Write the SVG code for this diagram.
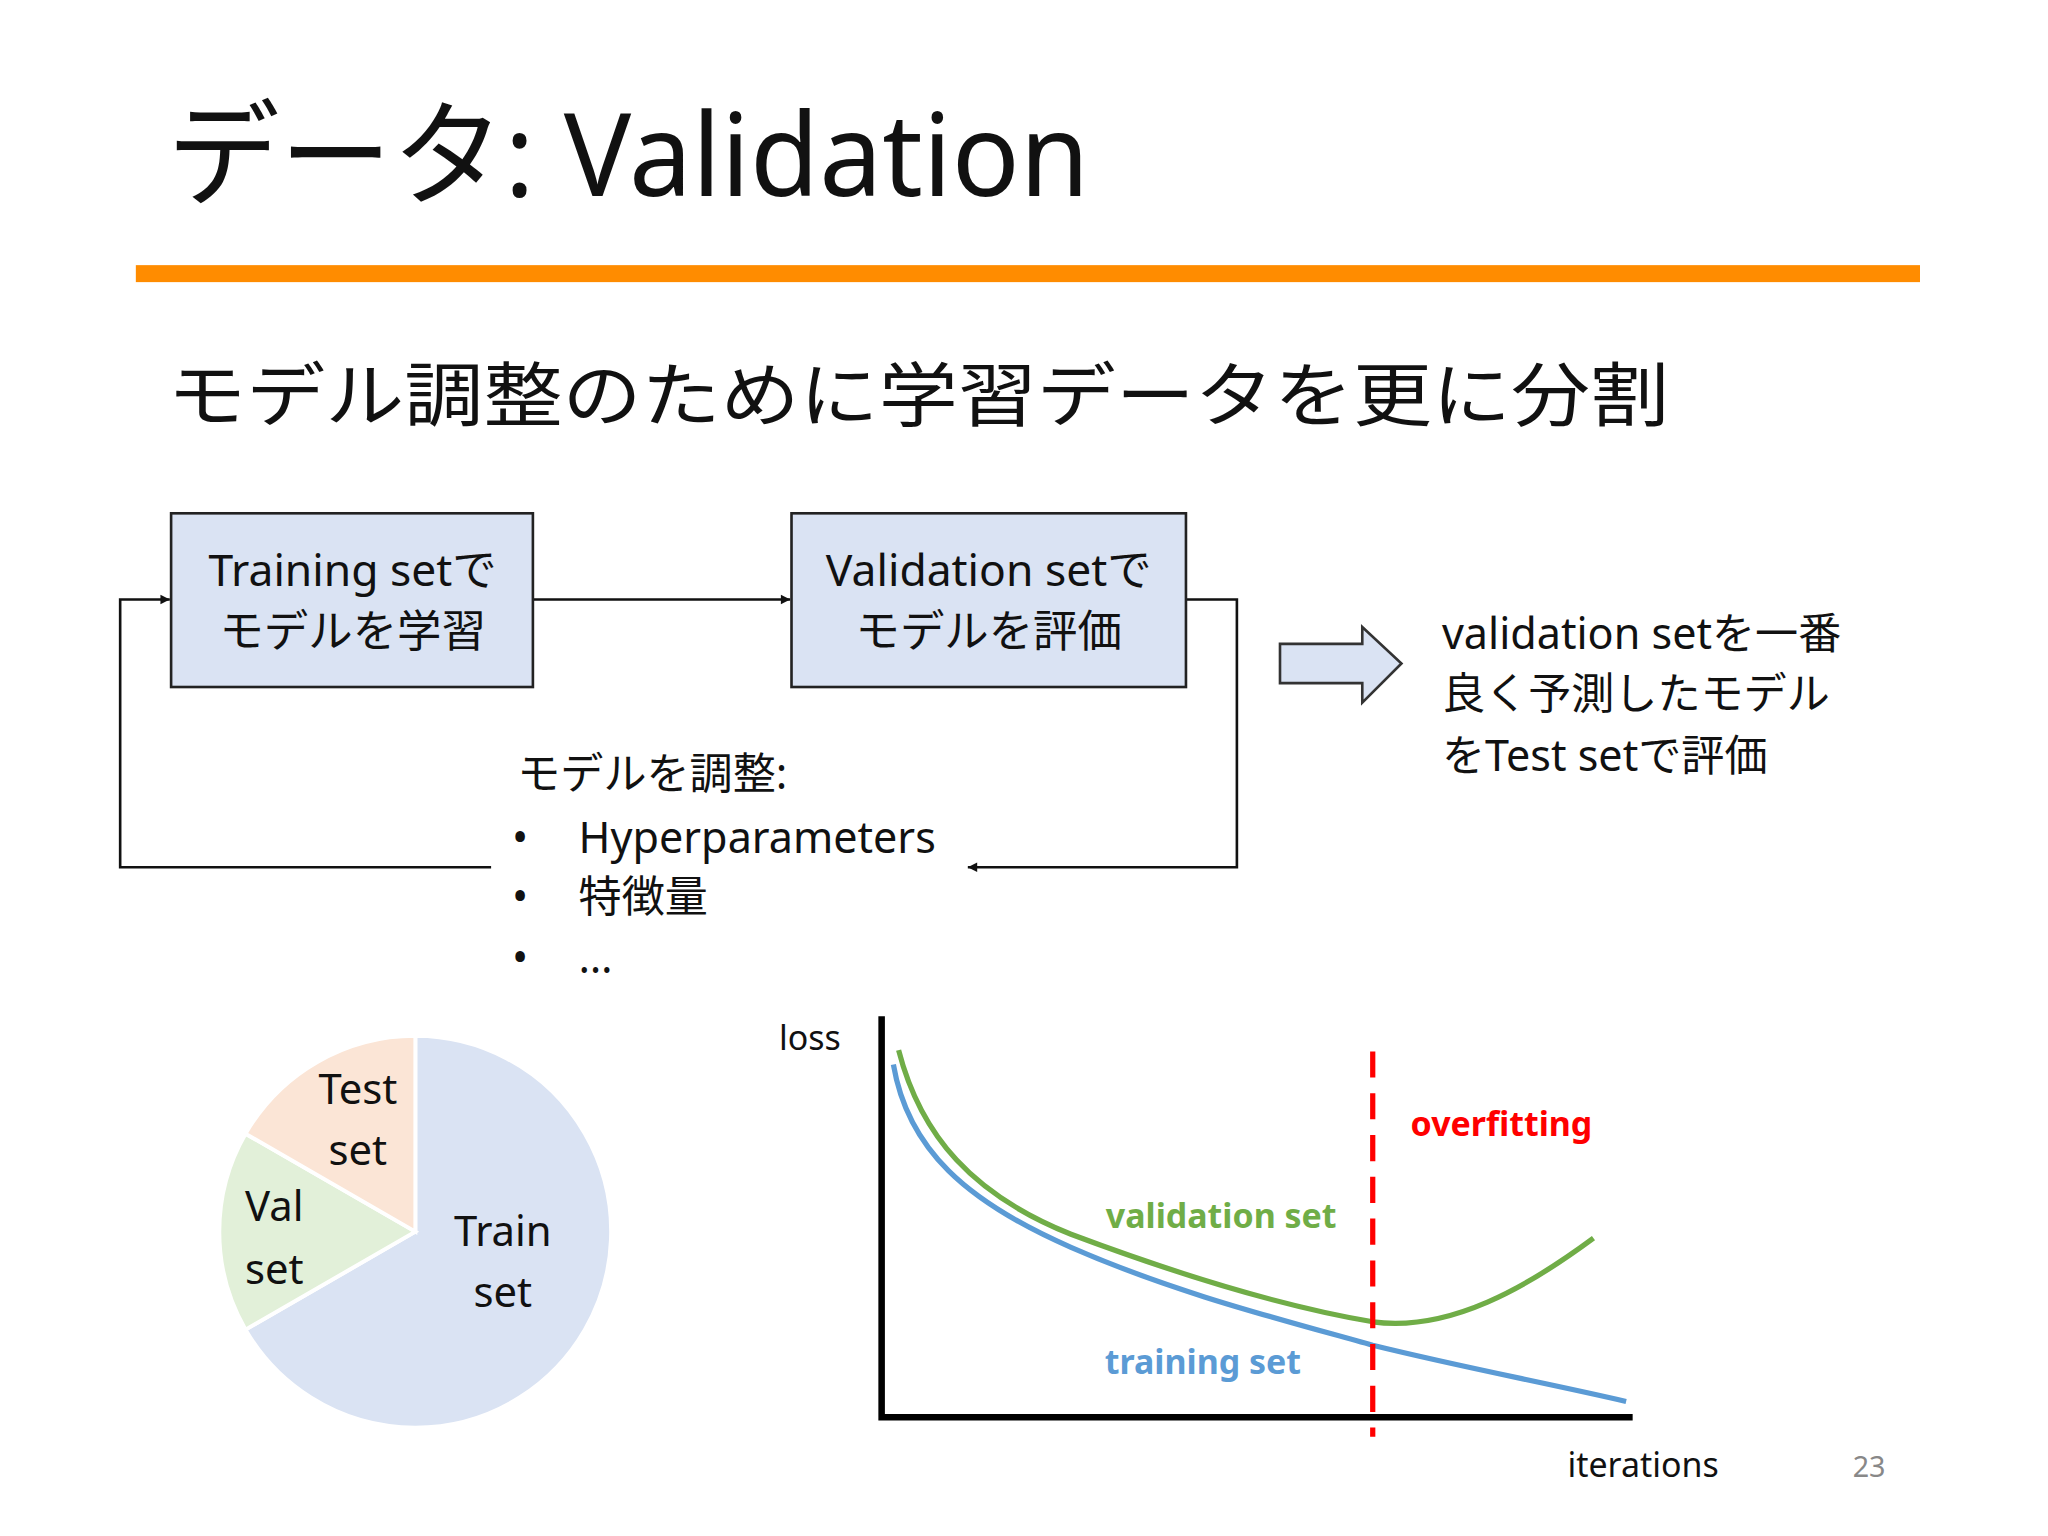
<svg xmlns="http://www.w3.org/2000/svg" width="2048" height="1536" viewBox="0 0 2048 1536">
<style>
text{font-family:"Noto Sans","Noto Sans CJK JP",sans-serif;fill:#111}
.box{fill:#dae3f3;stroke:#222;stroke-width:2}
.ln{fill:none;stroke:#111;stroke-width:2}
.b{font-size:34px;text-anchor:middle}
.m{font-size:33px}
.p{font-size:32px;text-anchor:middle}
.g{font-size:26px;font-weight:bold}
</style>
<defs>
<marker id="ah" viewBox="0 0 10 10" refX="10" refY="5" markerWidth="6" markerHeight="6" orient="auto" markerUnits="userSpaceOnUse" overflow="visible">
<path d="M0,0 L10,5 L0,10 z" fill="#111" transform="scale(1.2) translate(-1.6,-0.8)"/>
</marker>
</defs>
<rect width="2048" height="1536" fill="#fff"/>
<g transform="scale(1.30612)">
<g id="title">
<text x="128" y="150" font-size="88px" textLength="706" lengthAdjust="spacingAndGlyphs">データ: Validation</text>
<rect x="104" y="203" width="1366" height="13" fill="#ff8c00"/>
<text x="128" y="322" font-size="54px" textLength="1150" lengthAdjust="spacingAndGlyphs">モデル調整のために学習データを更に分割</text>
</g>
<g id="connectors">
<path class="ln" d="M408,459 H605" marker-end="url(#ah)"/>
<path class="ln" d="M908,459 H947 V664 H741" marker-end="url(#ah)"/>
<path class="ln" d="M376,664 H92 V459 H130" marker-end="url(#ah)"/>
</g>
<g id="n1">
<rect class="box" x="131" y="393" width="277" height="133"/>
<text class="b" x="270" y="449">Training setで</text>
<text class="b" x="270" y="495">モデルを学習</text>
</g>
<g id="n2">
<rect class="box" x="606" y="393" width="302" height="133"/>
<text class="b" x="757" y="449">Validation setで</text>
<text class="b" x="757" y="495">モデルを評価</text>
</g>
<g id="blockarrow">
<path d="M980,493 H1043 V480 L1073,508 L1043,538 V523 H980 z" fill="#dae3f3" stroke="#333" stroke-width="2"/>
</g>
<g id="result">
<text class="m" x="1104" y="497">validation setを一番</text>
<text class="m" x="1104" y="543">良く予測したモデル</text>
<text class="m" x="1104" y="590">をTest setで評価</text>
</g>
<g id="adjust">
<text class="m" x="396" y="604">モデルを調整:</text>
<text class="m" x="392" y="653">•</text><text class="m" x="443" y="653">Hyperparameters</text>
<text class="m" x="392" y="698">•</text><text class="m" x="443" y="698">特徴量</text>
<text class="m" x="392" y="745">•</text><text class="m" x="443" y="745">…</text>
</g>
<g id="pie">
<path d="M318,943 L318,793 A150,150 0 1 1 188,1018 z" fill="#dae3f3" stroke="#fff" stroke-width="3"/>
<path d="M318,943 L188,1018 A150,150 0 0 1 188,868 z" fill="#e2f0d9" stroke="#fff" stroke-width="3"/>
<path d="M318,943 L188,868 A150,150 0 0 1 318,793 z" fill="#fbe5d6" stroke="#fff" stroke-width="3"/>
<text class="p" x="274" y="845">Test</text><text class="p" x="274" y="892">set</text>
<text class="p" x="210" y="935">Val</text><text class="p" x="210" y="983">set</text>
<text class="p" x="385" y="954">Train</text><text class="p" x="385" y="1001">set</text>
</g>
<g id="chart">
<path d="M675,778 V1085 H1250" fill="none" stroke="#000" stroke-width="5"/>
<text x="620" y="804" font-size="26px" text-anchor="middle">loss</text>
<text x="1258" y="1131" font-size="26px" text-anchor="middle">iterations</text>
<text x="1431" y="1131" font-size="22px" text-anchor="middle" fill="#888" style="fill:#888">23</text>
<path d="M684,815 C695,880 740,920 820,955 C900,990 980,1010 1051,1030 C1120,1047 1180,1058 1245,1073" fill="none" stroke="#5b9bd5" stroke-width="4"/>
<path d="M688,804 C705,870 745,915 820,945 C900,975 980,1000 1051,1012 C1110,1020 1170,985 1220,948" fill="none" stroke="#70ad47" stroke-width="4"/>
<path d="M1051,805 V1100" stroke="#ff0000" stroke-width="4" stroke-dasharray="20,12"/>
<text class="g" x="1080" y="870" style="fill:#ff0000">overfitting</text>
<text class="g" x="935" y="940" text-anchor="middle" style="fill:#70ad47">validation set</text>
<text class="g" x="921" y="1052" text-anchor="middle" style="fill:#5b9bd5">training set</text>
</g>
</g>
</svg>
